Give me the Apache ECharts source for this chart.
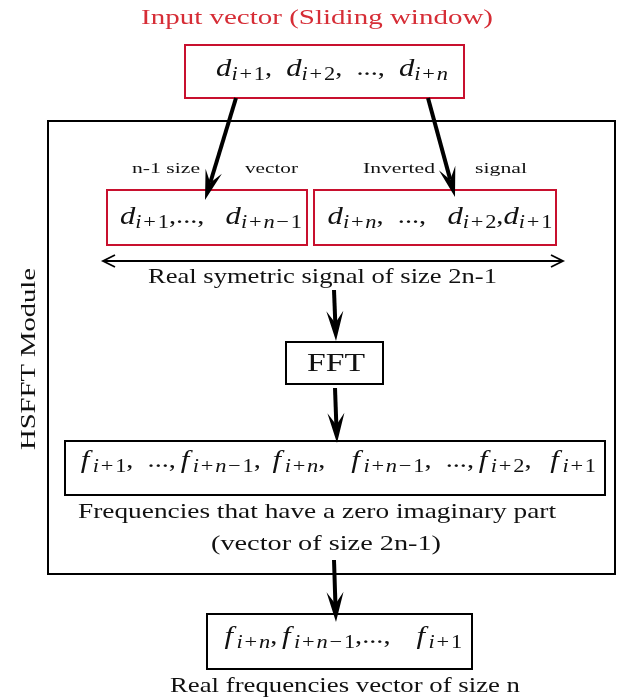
<!DOCTYPE html>
<html>
<head>
<meta charset="utf-8">
<script src="https://cdn.jsdelivr.net/npm/echarts@6/dist/echarts.min.js"></script>
<style>
  html, body { margin: 0; padding: 0; background: #fff; }
  #main { width: 618px; height: 698px; }
</style>
</head>
<body>
<div id="main"></div>
<script>
// diagram texts
const titleText = 'Input vector (Sliding window)'
const inputVector = 'd_{i+1},  d_{i+2},  ...,  d_{i+n}'
const firstHalf = 'd_{i+1},...,   d_{i+n-1}'
const secondHalf = 'd_{i+n},  ...,   d_{i+2},d_{i+1}'
const halfLabels = ['n-1 size', 'vector', 'Inverted', 'signal']
const symCaption = 'Real symetric signal of size 2n-1'
const fftLabel = 'FFT'
const fftOutput = 'f_{i+1},  ...,f_{i+n-1}, f_{i+n},   f_{i+n-1},  ...,f_{i+2},  f_{i+1}'
const fftCaption = ['Frequencies that have a zero imaginary part', '(vector of size 2n-1)']
const moduleLabel = 'HSFFT Module'
const outputVector = 'f_{i+n},f_{i+n-1},...,   f_{i+1}'
const outputCaption = 'Real frequencies vector of size n'

const RED = '#c8102e'
const SERIF = '"Liberation Serif", serif'
const STRETCH = 1.18 // the picture is wider than tall

const chart = echarts.init(document.getElementById('main'))
const ctx = document.createElement('canvas').getContext('2d')

function textWidth(text, size) {
  ctx.font = size + 'px "Liberation Serif"'
  return ctx.measureText(text).width
}

// turn 'd_{i+1}' style strings into rich text
function mathRich(expr) {
  let out = ''
  let i = 0
  let plain = ''
  const flush = () => { if (plain) { out += '{rm|' + plain + '}'; plain = '' } }
  while (i < expr.length) {
    const c = expr[i]
    if (expr[i + 1] === '_') {
      flush()
      out += '{' + (c === 'f' ? 'itf' : 'it') + '|' + c + '}'
      const end = expr.indexOf('}', i)
      const sub = expr.slice(i + 3, end)
      for (const s of sub) {
        if (/[a-z]/.test(s)) out += '{sit|' + s + '}'
        else if (s === '+' || s === '-') out += '{sop|' + (s === '-' ? '\u2212' : s) + '}'
        else out += '{srm|' + s + '}'
      }
      i = end + 1
    } else {
      plain += c
      i++
    }
  }
  flush()
  return out
}

const mathStyles = {
  it: { fontFamily: SERIF, fontStyle: 'italic', fontSize: 26, lineHeight: 36 },
  itf: { fontFamily: SERIF, fontStyle: 'italic', fontSize: 26, lineHeight: 36, padding: [0, 3, 0, 4] },
  rm: { fontFamily: SERIF, fontSize: 24, lineHeight: 36 },
  sit: { fontFamily: SERIF, fontStyle: 'italic', fontSize: 19, lineHeight: 36, padding: [12, 0, 0, 0] },
  sop: { fontFamily: SERIF, fontSize: 19, lineHeight: 36, padding: [12, 1.5, 0, 1.5] },
  srm: { fontFamily: SERIF, fontSize: 19, lineHeight: 36, padding: [12, 0, 0, 0] }
}

function box(x, y, w, h, color) {
  return {
    type: 'rect',
    shape: { x: x, y: y, width: w, height: h },
    style: { fill: null, stroke: color, lineWidth: 2 }
  }
}

// plain label stretched to span [left, right]
function label(text, left, right, y, size, color) {
  return {
    type: 'text',
    x: (left + right) / 2,
    y: y,
    scaleX: (right - left) / textWidth(text, size),
    style: {
      text: text, x: 0, y: 0, fill: color || '#111',
      fontFamily: SERIF, fontSize: size,
      align: 'center', verticalAlign: 'middle'
    }
  }
}

function math(expr, x, y) {
  return {
    type: 'text',
    x: x,
    y: y,
    scaleX: STRETCH,
    style: {
      text: mathRich(expr), x: 0, y: 0, fill: '#111',
      align: 'center', verticalAlign: 'middle', rich: mathStyles
    }
  }
}

// thick arrow with a stealth-like head
function arrow(x1, y1, x2, y2) {
  const dx = x2 - x1
  const dy = y2 - y1
  const len = Math.sqrt(dx * dx + dy * dy)
  const ux = dx / len
  const uy = dy / len
  const nx = -uy
  const ny = ux
  const L = 30
  const W = 8.5
  const back = L - 12
  return [{
    type: 'line',
    shape: { x1: x1, y1: y1, x2: x2 - ux * back, y2: y2 - uy * back },
    style: { stroke: '#000', lineWidth: 4 }
  }, {
    type: 'polygon',
    shape: {
      points: [
        [x2, y2],
        [x2 - ux * L + nx * W, y2 - uy * L + ny * W],
        [x2 - ux * back, y2 - uy * back],
        [x2 - ux * L - nx * W, y2 - uy * L - ny * W]
      ]
    },
    style: { fill: '#000' }
  }]
}

// thin double-headed arrow
function doubleArrow(x1, x2, y) {
  const h = 12
  const v = 6
  return [{
    type: 'line',
    shape: { x1: x1, y1: y, x2: x2, y2: y },
    style: { stroke: '#000', lineWidth: 1.8 }
  }, {
    type: 'polyline',
    shape: { points: [[x1 + h, y - v], [x1, y], [x1 + h, y + v]] },
    style: { stroke: '#000', lineWidth: 1.8, fill: null }
  }, {
    type: 'polyline',
    shape: { points: [[x2 - h, y - v], [x2, y], [x2 - h, y + v]] },
    style: { stroke: '#000', lineWidth: 1.8, fill: null }
  }]
}

const moduleEl = label(moduleLabel, 268, 450, 0, 21)
moduleEl.x = 29
moduleEl.y = 359
moduleEl.rotation = Math.PI / 2

const elements = [].concat(
  label(titleText, 141, 493, 18, 21, '#d62d36'),
  box(185, 45, 279, 53, RED),
  math(inputVector, 332, 69),
  box(48, 121, 567, 453, '#000'),
  moduleEl,
  label(halfLabels[0], 132, 200, 169, 15),
  label(halfLabels[1], 245, 298, 169, 15),
  label(halfLabels[2], 363, 435, 169, 15),
  label(halfLabels[3], 475, 527, 169, 15),
  box(107, 190, 200, 55, RED),
  box(314, 190, 242, 55, RED),
  math(firstHalf, 211, 217),
  math(secondHalf, 440, 217),
  arrow(236, 98, 205, 200),
  arrow(428, 98, 455, 197),
  doubleArrow(103, 563, 261),
  label(symCaption, 148, 497, 277, 21),
  arrow(334, 290, 336, 341),
  box(286, 342, 97, 42, '#000'),
  label(fftLabel, 307, 365, 364, 26),
  arrow(335, 388, 337, 443),
  box(65, 441, 540, 54, '#000'),
  math(fftOutput, 336, 461),
  label(fftCaption[0], 78, 556, 512, 21),
  label(fftCaption[1], 211, 441, 544, 21),
  arrow(334, 560, 336, 622),
  box(207, 614, 265, 55, '#000'),
  math(outputVector, 341, 637),
  label(outputCaption, 170, 520, 686, 21)
)

chart.setOption({
  animation: false,
  graphic: { elements: elements }
})
</script>
</body>
</html>
